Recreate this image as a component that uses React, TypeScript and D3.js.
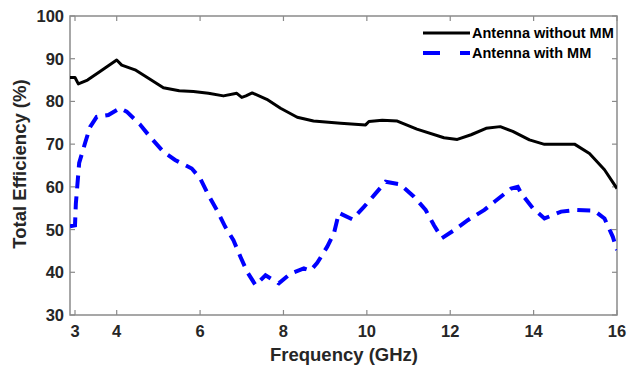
import React from "react";
import * as d3 from "d3";

const freqWithout = [2.88, 3.0, 3.08, 3.3, 3.6, 4.0, 4.12, 4.44, 4.8, 5.12, 5.5, 5.84, 6.2, 6.56, 6.88, 7.0, 7.1, 7.25, 7.6, 7.93, 8.33, 8.72, 9.37, 9.97, 10.05, 10.37, 10.73, 11.2, 11.85, 12.17, 12.5, 12.86, 13.2, 13.5, 13.9, 14.26, 14.98, 15.34, 15.7, 16.0];
const effWithout = [85.6, 85.6, 84.1, 85.0, 87.0, 89.7, 88.5, 87.4, 85.2, 83.2, 82.5, 82.3, 81.9, 81.3, 81.9, 80.95, 81.3, 82.0, 80.5, 78.4, 76.3, 75.4, 74.9, 74.5, 75.3, 75.6, 75.4, 73.5, 71.5, 71.1, 72.2, 73.7, 74.1, 73.0, 71.0, 69.95, 70.0, 67.8, 64.0, 59.6];

const freqWith = [2.88, 3.0, 3.02, 3.1, 3.24, 3.36, 3.52, 3.8, 4.08, 4.24, 4.56, 4.8, 5.12, 5.4, 5.8, 6.0, 6.2, 6.4, 6.6, 6.8, 6.97, 7.13, 7.33, 7.57, 7.89, 8.17, 8.49, 8.65, 8.81, 9.05, 9.21, 9.33, 9.65, 9.93, 10.17, 10.45, 10.8, 11.13, 11.41, 11.61, 11.8, 12.1, 12.42, 12.82, 13.06, 13.46, 13.62, 13.7, 13.98, 14.26, 14.66, 15.02, 15.46, 15.7, 15.9, 16.0];
const effWith = [50.8, 51.0, 56.0, 65.6, 70.2, 74.0, 76.4, 76.8, 78.4, 77.6, 74.6, 71.7, 68.2, 66.3, 64.3, 62.0, 58.1, 54.6, 50.7, 47.5, 43.6, 40.1, 37.0, 39.3, 37.4, 39.7, 40.9, 40.4, 42.2, 46.0, 49.1, 53.9, 52.4, 55.3, 58.0, 61.2, 60.6, 57.7, 54.6, 51.0, 48.0, 49.9, 52.2, 54.6, 56.5, 59.6, 60.0, 58.5, 55.0, 52.6, 54.2, 54.6, 54.4, 52.6, 48.3, 45.2];

const xTicks = [3, 4, 6, 8, 10, 12, 14, 16];
const yTicks = [30, 40, 50, 60, 70, 80, 90, 100];
const legendLabels = ["Antenna without MM", "Antenna with MM"];

const W = 629, H = 367;
const L = 70, R = 617, T = 16, B = 315;

export default function App() {
  const x = d3.scaleLinear().domain([2.88, 16]).range([L, R]);
  const y = d3.scaleLinear().domain([30, 100]).range([B, T]);
  const line = d3.line<[number, number]>().x(d => x(d[0])).y(d => y(d[1]));
  const d1 = line(freqWithout.map((f, i) => [f, effWithout[i]]))!;
  const d2 = line(freqWith.map((f, i) => [f, effWith[i]]))!;
  const axisColor = "#8a8a8a";
  const textColor = "#262626";
  const font = "'Liberation Sans', Arial, sans-serif";
  return (
    <svg width={W} height={H} style={{ position: "absolute", left: 0, top: 0, background: "#fff" }} fontFamily={font}>
      <rect x={0} y={0} width={W} height={H} fill="#fff" />
      <defs>
        <clipPath id="plotclip">
          <rect x={L} y={T} width={R - L} height={B - T} />
        </clipPath>
      </defs>
      <rect x={L} y={T} width={R - L} height={B - T} fill="none" stroke={axisColor} strokeWidth={1.5} />
      {xTicks.map(t => (
        <g key={"xt" + t}>
          <line x1={x(t)} x2={x(t)} y1={B} y2={B - 5} stroke={axisColor} strokeWidth={1.2} />
          <line x1={x(t)} x2={x(t)} y1={T} y2={T + 5} stroke={axisColor} strokeWidth={1.2} />
          <text x={x(t)} y={337} textAnchor="middle" fontSize={16.5} fontWeight="bold" fill={textColor}>{t}</text>
        </g>
      ))}
      {yTicks.map(t => (
        <g key={"yt" + t}>
          <line x1={L} x2={L + 5} y1={y(t)} y2={y(t)} stroke={axisColor} strokeWidth={1.2} />
          <line x1={R} x2={R - 5} y1={y(t)} y2={y(t)} stroke={axisColor} strokeWidth={1.2} />
          <text x={64} y={y(t) + 6} textAnchor="end" fontSize={16.5} fontWeight="bold" fill={textColor}>{t}</text>
        </g>
      ))}
      <g clipPath="url(#plotclip)">
        <path d={d1} fill="none" stroke="#000" strokeWidth={3} strokeLinejoin="round" />
        <path d={d2} fill="none" stroke="#0000ff" strokeWidth={4} strokeDasharray="13 8" />
      </g>
      <line x1={423} x2={470} y1={33} y2={33} stroke="#000" strokeWidth={3} />
      <text x={472} y={38} fontSize={14.5} fontWeight="bold" fill="#000">{legendLabels[0]}</text>
      <line x1={423} x2={470} y1={53} y2={53} stroke="#0000ff" strokeWidth={4} strokeDasharray="17 20" />
      <text x={472} y={58} fontSize={14.5} fontWeight="bold" fill="#000">{legendLabels[1]}</text>
      <text x={344} y={361} textAnchor="middle" fontSize={18.5} fontWeight="bold" fill={textColor}>Frequency (GHz)</text>
      <text transform="translate(26,164) rotate(-90)" textAnchor="middle" fontSize={18.5} fontWeight="bold" fill={textColor}>Total Efficiency (%)</text>
    </svg>
  );
}
